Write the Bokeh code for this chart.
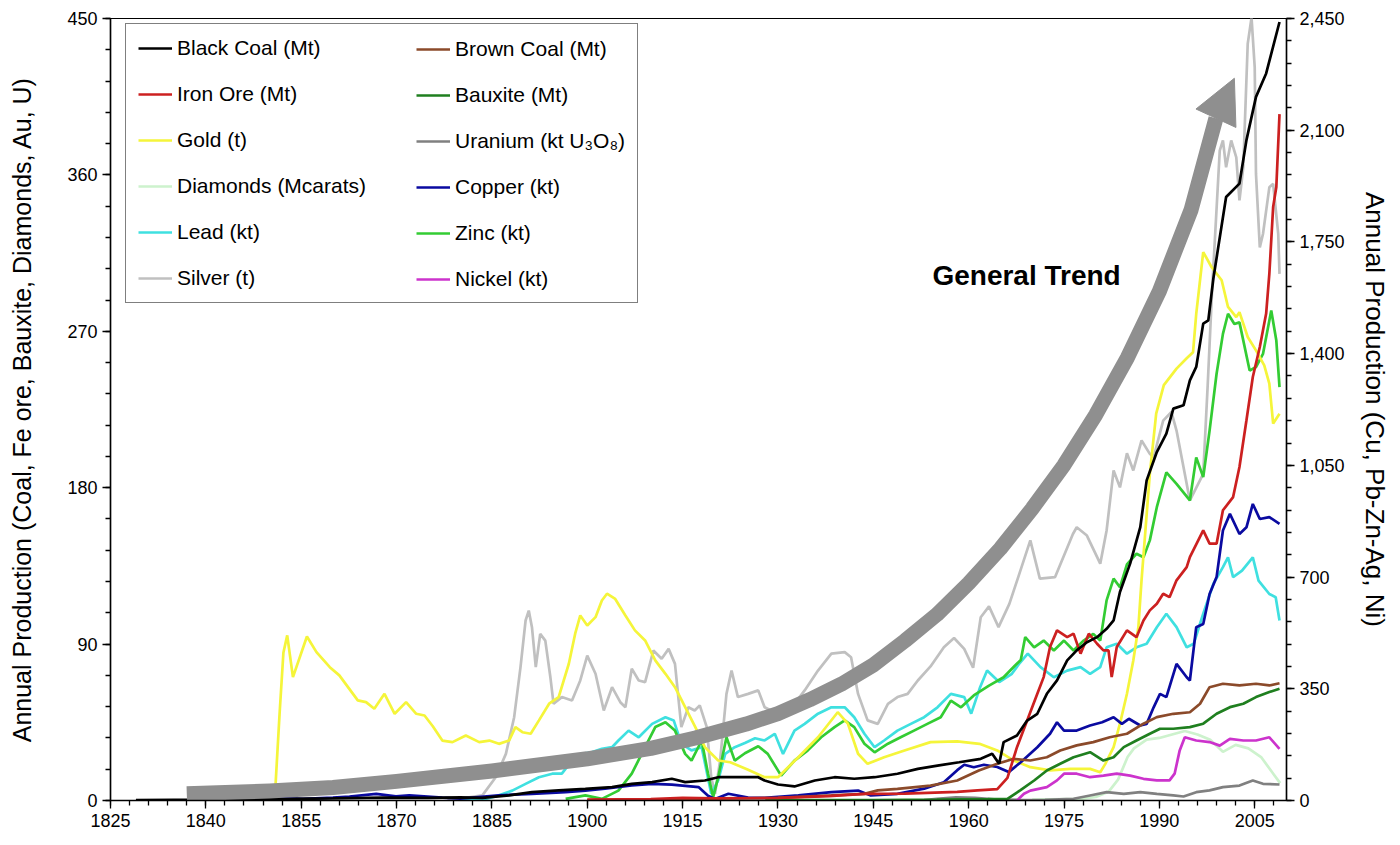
from bokeh.plotting import figure
from bokeh.models import (Range1d, LinearAxis, FixedTicker, NumeralTickFormatter,
                          Legend, LegendItem, Label, Arrow, NormalHead)
from bokeh.embed import file_html
from bokeh.resources import INLINE

FONT = "Liberation Sans"

# ---------------- data (left axis: Mt, t, Mcarats, kt U3O8) ----------------
black_coal_years = [1829, 1835, 1840, 1850, 1860, 1868, 1875, 1880, 1883.5, 1887.7, 1891.3, 1895.5,
                    1899.7, 1903.9, 1907, 1910.2, 1913.3, 1915.4, 1918.5, 1920.6, 1923.7, 1926.9,
                    1927.9, 1930, 1932.6, 1935.8, 1938.9, 1942, 1945.2, 1948.8, 1952, 1955.1, 1958.5,
                    1961.9, 1963.7, 1964.8, 1965.5, 1967.6, 1969.2, 1970.8, 1972.3, 1973.9, 1975.5,
                    1977, 1978.6, 1980.2, 1981.7, 1982.8, 1983.8, 1985.4, 1987, 1988, 1989.6, 1991.1,
                    1992.2, 1993.8, 1994.8, 1995.8, 1996.9, 1997.7, 1998.5, 2000.5, 2002.6, 2003.7,
                    2005.2, 2006.8, 2008.9]
black_coal_vals = [0.3, 0.4, 0.5, 0.8, 1.2, 1.6, 1.5, 1.8, 1.5, 2.9, 4.8, 5.8,
                   6.7, 7.7, 9.6, 10.6, 12.5, 10.6, 11.5, 13.4, 13.4, 13.4,
                   11.5, 9.2, 8.1, 11.5, 13.4, 12.5, 13.4, 15.4, 18.2, 20.1, 22,
                   24, 26.9, 21.1, 33.6, 37.4, 46, 49.9, 61.4, 69.1, 80.6,
                   86.4, 91.1, 94, 98.8, 103.6, 120, 136.3, 157.3, 184.2, 200.5, 211.1,
                   225.5, 227.4, 241.8, 249.5, 274.4, 276.3, 300.5, 347.3, 355, 380,
                   404.9, 418.4, 448]

brown_coal_years = [1900, 1910, 1920, 1930, 1938.4, 1943.6, 1945.7, 1948.8, 1954, 1958.2, 1961.6,
                    1964.5, 1967.1, 1969.7, 1972.3, 1974.4, 1977, 1979.6, 1982.2, 1984.9, 1987.5,
                    1989.6, 1992.2, 1994.8, 1996.4, 1997.9, 2000, 2002.6, 2005.2, 2007.3, 2008.9]
brown_coal_vals = [0.2, 0.5, 1.0, 1.5, 2.9, 3.8, 5.8, 6.7, 8.6, 11.5, 17.3,
                   21.1, 24, 23, 24.9, 28.8, 31.7, 33.6, 36.4, 38.4, 44.2,
                   48, 49.9, 50.8, 55.7, 65.2, 67.2, 66.2, 67.2, 66.2, 67.5]

iron_ore_years = [1900, 1910, 1915, 1920, 1930, 1938, 1943.6, 1950, 1958.2, 1961.4, 1964.5, 1966.1,
                  1967.6, 1969.2, 1970.8, 1971.8, 1972.8, 1973.9, 1975.5, 1976.5, 1977.6, 1978.9,
                  1980.2, 1981.2, 1982, 1982.5, 1983.3, 1984.9, 1986.4, 1987.5, 1988.5, 1989.6,
                  1990.6, 1991.6, 1992.7, 1994.3, 1994.8, 1996.9, 1997.9, 1999, 2000, 2001.6,
                  2002.6, 2003.7, 2004.7, 2005.8, 2006.8, 2007.3, 2007.9, 2008.4, 2008.9]
iron_ore_vals = [0.5, 0.8, 1.5, 1.2, 1.5, 2.5, 3.8, 4.0, 5.0, 5.8, 6.5, 13,
                 30.7, 46, 61.4, 71, 88.3, 97.9, 94, 96, 84.5, 96,
                 90.2, 86.4, 86.4, 71, 88.3, 97.9, 94, 103.6, 109.4, 113.2,
                 119, 117, 126.7, 134.3, 140, 155.4, 147.8, 147.8, 167, 174.6,
                 191.9, 218.8, 243.7, 261, 280.2, 303, 341.6, 353, 395]

bauxite_years = [1928, 1945, 1955, 1963, 1966.1, 1968.1, 1970.3, 1972.3, 1974.4, 1976.5, 1979.1,
                 1981.2, 1982.8, 1984.4, 1986.4, 1988.5, 1990.1, 1992.2, 1994.8, 1996.9, 1999,
                 2001.1, 2003.2, 2005.2, 2007.3, 2008.9]
bauxite_vals = [0.2, 0.3, 0.5, 0.8, 1, 5.8, 11.5, 17.3, 21.1, 24.9, 27.8,
                23, 24.9, 30.7, 34.5, 38.4, 41.3, 41.3, 42.2, 44.2, 49.9,
                53.7, 55.7, 59.5, 62.4, 64.3]

gold_years = [1850.9, 1851.6, 1852.2, 1852.8, 1853.7, 1855.9, 1857.4, 1859.5, 1861, 1863.9, 1865.2,
              1866.5, 1868.1, 1869.7, 1871.5, 1873.1, 1874.4, 1875.7, 1877.2, 1878.8, 1880.9,
              1883, 1884.6, 1886.1, 1887.7, 1888.7, 1889.8, 1891.1, 1892.4, 1894, 1895.5,
              1897.1, 1898.1, 1898.9, 1900, 1901.3, 1902.3, 1903.1, 1904.4, 1906, 1907.5,
              1909.1, 1910.7, 1912.3, 1913.8, 1915.4, 1917, 1918.5, 1920.6, 1922.5, 1925.3,
              1927.9, 1930, 1933.2, 1936.3, 1939.4, 1941, 1942.6, 1944.1, 1946.7, 1949.9,
              1954, 1958.2, 1961.7, 1964.5, 1967.1, 1969.7, 1972.8, 1976, 1979.1, 1980.7,
              1981.5, 1982.8, 1983.8, 1984.9, 1985.9, 1986.7, 1987.2, 1988.5, 1989.5, 1990.7,
              1992.7, 1994.3, 1995.3, 1995.8, 1996.9, 1998.2, 1999.8, 2000.8, 2002.1, 2002.6,
              2003.9, 2005.2, 2006.5, 2007.3, 2007.9, 2008.9]
gold_vals = [5, 50, 85, 95, 71, 94.4, 85.4, 76.7, 72, 57.6, 56.6,
             52.8, 61.4, 49.9, 56.6, 49.9, 48.9, 42.7, 34.5, 33.6, 37.4,
             33.6, 34.5, 32.6, 34.5, 42.2, 39.3, 38.4, 46.1, 55.7, 59.5,
             78.7, 96, 106.5, 100.7, 105.5, 115.1, 119, 116, 106.5, 97.9,
             92.1, 80.6, 72.9, 65.2, 53.7, 42.2, 30.7, 23, 22, 17.7,
             13.4, 13.4, 24.9, 36.4, 50.8, 44.2, 26.9, 21.1, 24.9, 28.8,
             33.6, 34, 32.6, 28.8, 23, 19.2, 17.3, 18.2, 18.2, 16.3,
             21.1, 30.7, 44.2, 61.4, 80.6, 99.8, 127, 188, 222.6, 239,
             248.5, 254.5, 258, 280, 315.6, 307, 299.4, 284, 278.2, 281,
             266.7, 259, 250.4, 239.9, 216.9, 222.6]

uranium_years = [1953, 1955, 1958, 1961, 1964, 1968, 1972, 1976.5, 1979.1, 1981.7, 1984.4, 1987,
                 1989.6, 1992.2, 1993.8, 1995.8, 1997.9, 2000, 2002.6, 2004.7, 2006.3, 2008.9]
uranium_vals = [0.2, 1.0, 1.8, 1.5, 0.6, 0.3, 0.4, 1, 2.9, 4.8, 3.8, 4.8,
                3.8, 2.9, 2.3, 4.8, 5.8, 7.7, 8.6, 11.5, 9.6, 9.2]

diamonds_years = [1970, 1978, 1980, 1982, 1983.5, 1985, 1986, 1988, 1990, 1992, 1994, 1996,
                  1998, 2000, 2002, 2004, 2006, 2008, 2009]
diamonds_vals = [0.5, 1, 2, 5, 12, 25, 30, 35, 36, 38, 40, 38,
                 35, 28, 32, 30, 25, 15, 10]

# ---------------- data (right axis: kt, t) ----------------
copper_years = [1842, 1846.4, 1850, 1855.3, 1860, 1862.6, 1866.8, 1869.9, 1872, 1877.2, 1880,
                1886.1, 1891.3, 1896.6, 1899.7, 1902.8, 1907, 1910.2, 1913.3, 1917.5, 1919,
                1920.1, 1922.2, 1925.3, 1927.9, 1933.2, 1938.4, 1942.6, 1944.6, 1948.8, 1953,
                1956.1, 1958.2, 1959.3, 1960.8, 1962.4, 1964.5, 1966.3, 1968.2, 1970.8, 1972.8,
                1973.9, 1975, 1977, 1979.1, 1981, 1982.8, 1984.1, 1985.2, 1987, 1988, 1989.1,
                1990.1, 1991.1, 1992.7, 1994.3, 1994.8, 1995.8, 1996.9, 1997.9, 1999, 2000,
                2001.1, 2002.6, 2003.7, 2004.7, 2005.8, 2007.3, 2008.9]
copper_vals = [2, 8, 8, 5, 9, 12.5, 21, 13, 16, 9, 6,
               16, 21, 26, 31, 37, 47, 52, 50, 42, 15,
               5, 21, 9, 8, 16, 26, 31, 16, 21, 37,
               57, 95, 112, 104, 112, 105, 89, 120, 167, 209,
               245, 219, 219, 235, 245, 261, 240, 256, 235, 240, 292,
               334, 324, 428, 386, 376, 543, 553, 647, 700, 846,
               898, 835, 856, 929, 882, 888, 867]

lead_years = [1880, 1884, 1886.1, 1888.2, 1890.3, 1892.4, 1894.5, 1896, 1897.6, 1899.2, 1900.7,
              1902.3, 1903.9, 1904.9, 1906.5, 1908.1, 1910.2, 1912.3, 1913.6, 1914.8, 1916.4,
              1918, 1919.5, 1920.6, 1921.7, 1923.2, 1924.8, 1926.4, 1927.9, 1929.5, 1930.8,
              1932.6, 1934.2, 1936.3, 1938.4, 1940.5, 1942, 1943.6, 1945.2, 1946.7, 1948.8,
              1950.9, 1953, 1955.1, 1957.2, 1959.3, 1960.4, 1961.8, 1962.9, 1964.8, 1966.8,
              1968, 1969.3, 1971.3, 1973.4, 1975.5, 1977.6, 1979.1, 1980.7, 1981.7, 1983.3,
              1984.9, 1986.4, 1988, 1989.6, 1991.1, 1992.7, 1994.3, 1995.4, 1996.9, 1998.5,
              2000, 2000.8, 2001.6, 2003, 2004.7, 2005.6, 2007.3, 2008.3, 2008.9]
lead_vals = [1, 5, 16, 31, 52, 73, 84, 84, 125, 146, 151,
             162, 167, 188, 219, 198, 240, 261, 251, 178, 157,
             167, 21, 63, 146, 167, 180, 195, 188, 209, 146,
             219, 240, 272, 292, 292, 261, 209, 167, 188, 219,
             240, 261, 292, 334, 324, 272, 355, 407, 371, 397,
             430, 460, 418, 386, 407, 418, 397, 418, 480, 491,
             460, 480, 491, 543, 585, 543, 480, 491, 585, 679,
             731, 762, 700, 720, 762, 689, 647, 637, 564]

zinc_years = [1896.6, 1899.7, 1902.3, 1904.9, 1907, 1909.1, 1910.7, 1912.3, 1913.8, 1915.4, 1916.4,
              1918, 1919, 1919.8, 1920.6, 1921.9, 1923.2, 1924.8, 1926.9, 1928.4, 1930.5, 1932.6,
              1934.7, 1936.8, 1938.9, 1940.5, 1942, 1943.6, 1945.2, 1947.3, 1949.3, 1951.4,
              1953.5, 1955.6, 1957.2, 1958.8, 1960.8, 1963.2, 1965.5, 1967.3, 1968.2, 1968.9,
              1970.3, 1971.8, 1973.4, 1975, 1976.5, 1978.1, 1979.6, 1980.7, 1981.7, 1982.8,
              1983.8, 1984.9, 1986.4, 1987.5, 1988.5, 1989.6, 1991.1, 1992.7, 1994.8, 1995.8,
              1996.9, 1997.9, 1999, 2000, 2000.8, 2001.8, 2002.6, 2004.2, 2005.2, 2006.3,
              2007.6, 2008.4, 2008.9]
zinc_vals = [5, 16, 5, 31, 84, 167, 230, 245, 219, 146, 125,
             188, 84, 10, 73, 198, 125, 148, 170, 146, 78, 125,
             157, 198, 230, 251, 230, 178, 151, 178, 198, 219,
             240, 261, 313, 292, 329, 360, 386, 423, 440, 512,
             480, 501, 470, 501, 470, 501, 522, 501, 627, 695,
             668, 740, 773, 762, 815, 919, 1028, 992, 940, 1075,
             1013, 1159, 1337, 1462, 1525, 1493, 1498, 1347, 1358, 1399,
             1535, 1441, 1295]

silver_years = [1878, 1880.9, 1883.5, 1885.6, 1887.2, 1888.5, 1889.5, 1890.3, 1890.8, 1891.3, 1891.9,
                1892.6, 1893.4, 1894.2, 1894.7, 1896, 1897.6, 1898.9, 1900, 1901.3, 1902.6,
                1903.9, 1905.2, 1906, 1907, 1908.1, 1909.1, 1910.4, 1911.7, 1912.8, 1913.8,
                1914.8, 1915.9, 1916.9, 1917.7, 1918.8, 1919.5, 1920.1, 1920.9, 1921.9, 1922.7,
                1923.7, 1925.3, 1926.9, 1927.9, 1931, 1932.6, 1934.2, 1936.3, 1938.4, 1940.5,
                1941.5, 1942.6, 1944.1, 1945.7, 1947.3, 1948.8, 1950.4, 1952, 1954, 1956.1,
                1957.7, 1959.3, 1960.7, 1961.9, 1963.2, 1964.7, 1966.4, 1967.8, 1969.7, 1971.2,
                1973.6, 1976.4, 1977, 1978.6, 1980.7, 1981.7, 1982.8, 1983.8, 1984.9, 1985.9,
                1987.2, 1988.5, 1989.1, 1990.6, 1991.9, 1992.7, 1994.8, 1996.9, 1997.6, 1998.3,
                1999.5, 2000, 2000.5, 2001.3, 2002.1, 2002.6, 2003.2, 2003.9, 2004.5, 2005,
                2005.2, 2005.8, 2006.3, 2007.3, 2007.9, 2008.7, 2008.9]
silver_vals = [3, 8, 16, 73, 146, 261, 418, 564, 595, 543, 418,
               522, 501, 386, 303, 324, 313, 376, 454, 397, 282,
               355, 308, 292, 413, 376, 371, 470, 444, 475, 428,
               230, 292, 282, 298, 230, 73, 21, 125, 334, 407,
               324, 334, 345, 292, 261, 303, 345, 407, 460, 465,
               449, 334, 251, 240, 303, 324, 334, 376, 420, 480,
               509, 475, 416, 574, 608, 543, 616, 700, 815, 695,
               700, 835, 856, 830, 742, 846, 1034, 981, 1088, 1034,
               1128, 1086, 1075, 1190, 1217, 1159, 940, 1023, 1300, 1600,
               2036, 2068, 1984, 2068, 2015, 1880, 1984, 2371, 2453, 2297,
               1963, 1733, 1775, 1921, 1932, 1775, 1650]

nickel_years = [1967.6, 1968.7, 1969.7, 1972.3, 1973.9, 1975, 1977, 1979.1, 1981.2, 1983.3, 1985.4,
                1987.5, 1989.6, 1991.6, 1992.4, 1993.2, 1994, 1995.8, 1997.9, 1999.5, 2001.1,
                2003.2, 2005.2, 2007.3, 2008.9]
nickel_vals = [0, 21, 31, 42, 63, 84, 84, 73, 78, 84, 78,
               68, 63, 63, 84, 157, 198, 188, 183, 172, 193,
               188, 188, 198, 162]

# ---------------- "general trend" arrow path (left-axis units) ----------------
trend_years = [1837, 1850, 1860, 1870, 1885, 1900, 1910, 1917, 1925, 1930, 1935, 1940, 1945,
               1950, 1955, 1960, 1965, 1970, 1975, 1980, 1985, 1990, 1995, 1998.9]
trend_vals = [3.9, 5.5, 7.5, 11, 17, 24, 30, 36, 44, 50, 58, 67, 78,
              92, 107, 125, 145, 168, 193, 222, 255, 293, 340, 392.6]
trend_tip = (2001.8, 415.6)
trend_label = ("General Trend", 1954.3, 302)

x_ticks = list(range(1825, 2010, 15))
left_ticks = [0, 90, 180, 270, 360, 450]
right_ticks = [0, 350, 700, 1050, 1400, 1750, 2100, 2450]

# ---------------- figure ----------------
p = figure(width=1392, height=837, output_backend="svg", toolbar_location=None,
           x_range=Range1d(1825, 2010), y_range=Range1d(0, 450),
           min_border_left=110, min_border_right=101, min_border_top=18, min_border_bottom=37)
p.extra_y_ranges = {"right": Range1d(0, 2450)}
p.xgrid.visible = False
p.ygrid.visible = False
p.outline_line_color = "black"
p.outline_line_width = 1.2
p.background_fill_color = "white"
p.border_fill_color = "white"


def style_axis(ax, title_size, size="18px"):
    ax.axis_line_color = "black"
    ax.axis_line_width = 1.5
    ax.major_tick_line_color = "black"
    ax.minor_tick_line_color = "black"
    ax.major_tick_line_width = 1.3
    ax.minor_tick_line_width = 1.3
    ax.major_tick_in = 0
    ax.minor_tick_in = 0
    ax.major_tick_out = 8
    ax.minor_tick_out = 5
    ax.major_label_text_font = FONT
    ax.major_label_text_font_size = size
    ax.major_label_text_color = "black"
    ax.major_label_standoff = 5
    ax.axis_label_text_font = FONT
    ax.axis_label_text_font_size = title_size
    ax.axis_label_text_font_style = "normal"
    ax.axis_label_text_color = "black"


xa = p.xaxis[0]
xa.ticker = FixedTicker(ticks=x_ticks, minor_ticks=list(range(1825, 2011, 3)))
style_axis(xa, "23px")

ya = p.yaxis[0]
ya.ticker = FixedTicker(ticks=left_ticks, minor_ticks=list(range(0, 451, 18)))
ya.axis_label = "Annual Production (Coal, Fe ore, Bauxite, Diamonds, Au, U)"
style_axis(ya, "25px")
ya.axis_label_standoff = 28

ra = LinearAxis(y_range_name="right")
ra.ticker = FixedTicker(ticks=right_ticks, minor_ticks=list(range(0, 2451, 70)))
ra.formatter = NumeralTickFormatter(format="0,0")
ra.axis_label = "Annual Production (Cu, Pb-Zn-Ag, Ni)"
style_axis(ra, "26px")
ra.axis_label_standoff = 12
p.add_layout(ra, "right")

LW = 2.7
r_silver = p.line(silver_years, silver_vals, line_color="#c0c0c0", line_width=LW, y_range_name="right")
r_diam = p.line(diamonds_years, diamonds_vals, line_color="#cdf2cd", line_width=LW)
r_uran = p.line(uranium_years, uranium_vals, line_color="#808080", line_width=LW)
r_lead = p.line(lead_years, lead_vals, line_color="#3fe0e0", line_width=LW, y_range_name="right")
r_zinc = p.line(zinc_years, zinc_vals, line_color="#33cc33", line_width=LW, y_range_name="right")
r_gold = p.line(gold_years, gold_vals, line_color="#f5f53a", line_width=LW)
r_copper = p.line(copper_years, copper_vals, line_color="#0a0aa0", line_width=LW, y_range_name="right")
r_nickel = p.line(nickel_years, nickel_vals, line_color="#cc33cc", line_width=LW, y_range_name="right")
r_baux = p.line(bauxite_years, bauxite_vals, line_color="#1f7f1f", line_width=LW)
r_brown = p.line(brown_coal_years, brown_coal_vals, line_color="#8b4a2a", line_width=LW)
r_iron = p.line(iron_ore_years, iron_ore_vals, line_color="#cc2020", line_width=LW)
r_black = p.line(black_coal_years, black_coal_vals, line_color="black", line_width=LW)

# trend arrow
TREND_C = "#8f8f8f"
p.line(trend_years, trend_vals, line_color=TREND_C, line_width=15, line_cap="butt", line_join="round")
p.add_layout(Arrow(end=NormalHead(size=44, fill_color=TREND_C, line_color=TREND_C, line_width=1),
                   x_start=trend_years[-1], y_start=trend_vals[-1],
                   x_end=trend_tip[0], y_end=trend_tip[1], line_alpha=0, line_width=1))
p.add_layout(Label(x=trend_label[1], y=trend_label[2], text=trend_label[0],
                   text_font=FONT, text_font_size="28px", text_font_style="bold",
                   text_baseline="middle", text_align="left", text_color="black"))

col1_items = [
    LegendItem(label="Black Coal (Mt)", renderers=[r_black]),
    LegendItem(label="Iron Ore (Mt)", renderers=[r_iron]),
    LegendItem(label="Gold (t)", renderers=[r_gold]),
    LegendItem(label="Diamonds (Mcarats)", renderers=[r_diam]),
    LegendItem(label="Lead (kt)", renderers=[r_lead]),
    LegendItem(label="Silver (t)", renderers=[r_silver]),
]
col2_items = [
    LegendItem(label="Brown Coal (Mt)", renderers=[r_brown]),
    LegendItem(label="Bauxite (Mt)", renderers=[r_baux]),
    LegendItem(label="Uranium (kt U\u2083O\u2088)", renderers=[r_uran]),
    LegendItem(label="Copper (kt)", renderers=[r_copper]),
    LegendItem(label="Zinc (kt)", renderers=[r_zinc]),
    LegendItem(label="Nickel (kt)", renderers=[r_nickel]),
]
common = dict(orientation="vertical", label_text_font=FONT, label_text_font_size="21px",
              label_text_color="black", glyph_width=34, glyph_height=24, label_height=24,
              label_standoff=5, spacing=22, padding=12, margin=0)
legend1 = Legend(items=col1_items, location=(15, 497), label_width=448,
                 border_line_color="black", border_line_width=1.5,
                 background_fill_color="white", background_fill_alpha=1.0, **common)
legend2 = Legend(items=col2_items, location=(294, 497),
                 border_line_alpha=0, background_fill_alpha=0, **common)
p.add_layout(legend1)
p.add_layout(legend2)

open("out.html", "w").write(file_html(p, INLINE))
